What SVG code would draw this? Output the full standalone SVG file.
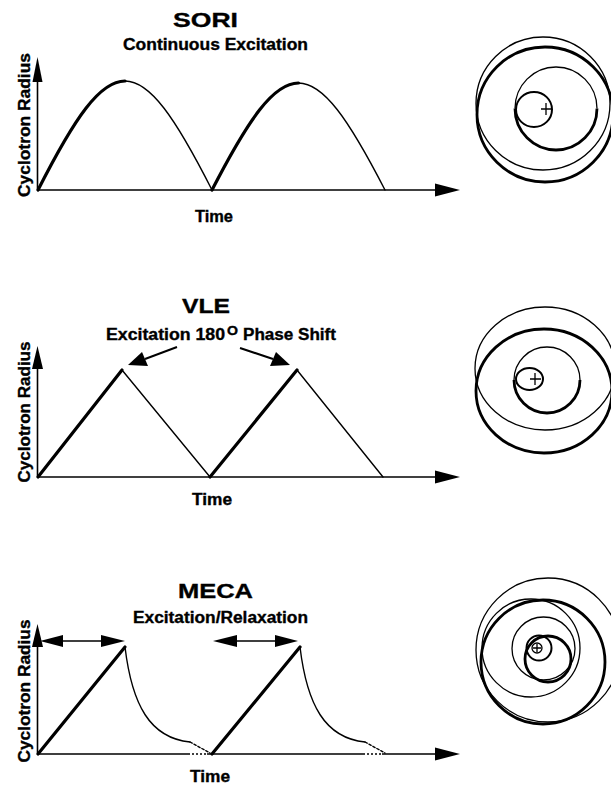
<svg xmlns="http://www.w3.org/2000/svg" width="611" height="785" viewBox="0 0 611 785">
<style>
text{font-family:"Liberation Sans",Arial,sans-serif;font-weight:bold;fill:#000;stroke:#000;stroke-width:0.35}
.t{font-size:21px}
.s{font-size:16px}
.thick{fill:none;stroke:#000;stroke-width:3.2;stroke-linecap:round;stroke-linejoin:round}
.thin{fill:none;stroke:#000;stroke-width:1.4;stroke-linecap:round}
.axis{fill:none;stroke:#000;stroke-width:1.6}
.ah{fill:#000}
.c1{fill:none;stroke:#000;stroke-width:1.3}
.c3{fill:none;stroke:#000;stroke-width:2.8}
.c2{fill:none;stroke:#000;stroke-width:2}
</style>
<rect width="611" height="785" fill="#fff"/>

<!-- SORI -->
<g id="sori">
<text class="t" x="205.5" y="27" text-anchor="middle" textLength="65" lengthAdjust="spacingAndGlyphs">SORI</text>
<text class="s" x="215.5" y="49.5" text-anchor="middle" textLength="185" lengthAdjust="spacingAndGlyphs">Continuous Excitation</text>
<text class="s" x="214" y="222" text-anchor="middle" textLength="38" lengthAdjust="spacingAndGlyphs">Time</text>
<text class="s" transform="translate(30,125) rotate(-90)" text-anchor="middle" textLength="144" lengthAdjust="spacingAndGlyphs">Cyclotron Radius</text>
<path class="axis" d="M37.5,190 V78"/>
<polygon class="ah" points="37.5,57 32.5,82 42.5,82"/>
<path class="axis" d="M37,190 H438" stroke-width="2"/>
<polygon class="ah" points="460,190 435,183.5 435,196.5"/>
<path class="thick" d="M38,190 C74.9,117.3 99.95,81 125,81"/>
<path class="thin" d="M125,81 C150.05,81 175.1,117.3 212,190"/>
<path class="thick" d="M212,190 C248.7,118.7 273.6,83 298.5,83"/>
<path class="thin" d="M298.5,83 C323.4,83 348.3,118.7 385,190"/>
</g>
<g id="sori-orbit">
<ellipse class="c1" cx="543" cy="103.5" rx="67" ry="66.5"/>
<ellipse class="c3" cx="545" cy="114.5" rx="68" ry="67.5"/>
<path class="c1" d="M515,108.5 A41,41.5 0 0 1 597,108.5"/>
<path class="c3" d="M597,108.5 A41,41.5 0 0 1 515,108.5"/>
<ellipse class="c2" cx="534" cy="109.5" rx="18" ry="17.5"/>
<path class="c1" d="M541,109 H552 M546,103 V115"/>
</g>

<!-- VLE -->
<g id="vle">
<text class="t" x="206" y="313" text-anchor="middle" textLength="48" lengthAdjust="spacingAndGlyphs">VLE</text>
<text class="s" x="106" y="340" textLength="119" lengthAdjust="spacingAndGlyphs">Excitation 180</text>
<text x="227" y="335" style="font-size:12px" textLength="11" lengthAdjust="spacingAndGlyphs">O</text>
<text class="s" x="243" y="340" textLength="93" lengthAdjust="spacingAndGlyphs">Phase Shift</text>
<text class="s" x="212" y="505" text-anchor="middle" textLength="40" lengthAdjust="spacingAndGlyphs">Time</text>
<text class="s" transform="translate(30,412) rotate(-90)" text-anchor="middle" textLength="141" lengthAdjust="spacingAndGlyphs">Cyclotron Radius</text>
<path class="axis" d="M37.5,477 V365"/>
<polygon class="ah" points="37.5,346 32,369 43,369"/>
<path class="axis" d="M37,477 H438" stroke-width="2"/>
<polygon class="ah" points="460,477 435,470.5 435,483.5"/>
<path class="thick" d="M38,477 L122,370"/>
<path class="thin" d="M122,370 L210,477"/>
<path class="thick" d="M210,477 L297,370"/>
<path class="thin" d="M297,370 L383,477"/>
<path class="c2" d="M177,347 L145,359"/>
<polygon class="ah" points="128,365 142,352 148,366"/>
<path class="c2" d="M240,348 L273,359"/>
<polygon class="ah" points="290,365 270,366 276,352"/>
</g>
<g id="vle-orbit">
<ellipse class="c1" cx="545" cy="368.5" rx="70" ry="61.5"/>
<ellipse class="c3" cx="544" cy="391" rx="68" ry="62"/>
<path class="c1" d="M514,380 A33,33 0 0 1 580,380"/>
<path class="c3" d="M580,380 A33,33 0 0 1 514,380"/>
<ellipse class="c2" cx="529.5" cy="379" rx="13.5" ry="11"/>
<path class="c1" d="M530,379 H541 M535,373 V385"/>
</g>

<!-- MECA -->
<g id="meca">
<text class="t" x="215.5" y="598" text-anchor="middle" textLength="75" lengthAdjust="spacingAndGlyphs">MECA</text>
<text class="s" x="220.5" y="623" text-anchor="middle" textLength="175" lengthAdjust="spacingAndGlyphs">Excitation/Relaxation</text>
<text class="s" x="210" y="782" text-anchor="middle" textLength="40" lengthAdjust="spacingAndGlyphs">Time</text>
<text class="s" transform="translate(30,691) rotate(-90)" text-anchor="middle" textLength="143" lengthAdjust="spacingAndGlyphs">Cyclotron Radius</text>
<path class="axis" d="M37.5,754 V640"/>
<polygon class="ah" points="37.5,624 32,647 43,647"/>
<path class="axis" d="M37,754 H188 M207,754 H363 M382,754 H438" stroke-width="2"/>
<path class="axis" d="M188,754 H207 M363,754 H382" stroke-width="2" stroke-dasharray="2,2"/>
<polygon class="ah" points="460,754 435,747.5 435,760.5"/>
<path class="thin" d="M60,641 H104"/>
<polygon class="ah" points="40,641 63,635 63,647"/>
<polygon class="ah" points="125,641 101,635 101,647"/>
<path class="thin" d="M234,641 H279"/>
<polygon class="ah" points="213,641 237,635 237,647"/>
<polygon class="ah" points="298,641 275,635 275,647"/>
<path class="thick" d="M38,754 L125,647"/>
<path class="thin" d="M125,647 C132,705 150,738 190,742"/>
<path class="thin" d="M190,742 L210,753" stroke-dasharray="2.5,2"/>
<path class="thick" d="M212,754 L300,647"/>
<path class="thin" d="M300,647 C307,705 325,738 365,742"/>
<path class="thin" d="M365,742 L385,753" stroke-dasharray="2.5,2"/>
</g>
<g id="meca-orbit">
<circle class="c1" cx="548" cy="650" r="72"/>
<circle class="c3" cx="543" cy="662" r="62"/>
<circle class="c1" cx="531" cy="648" r="49"/>
<circle class="c1" cx="543.5" cy="648.5" r="31.5"/>
<circle class="c3" cx="548" cy="659" r="23"/>
<circle class="c2" cx="539" cy="648" r="12.5"/>
<circle class="c1" cx="537" cy="648" r="5"/>
<path class="c1" d="M533,648 H541 M537,644 V652"/>
</g>
</svg>
